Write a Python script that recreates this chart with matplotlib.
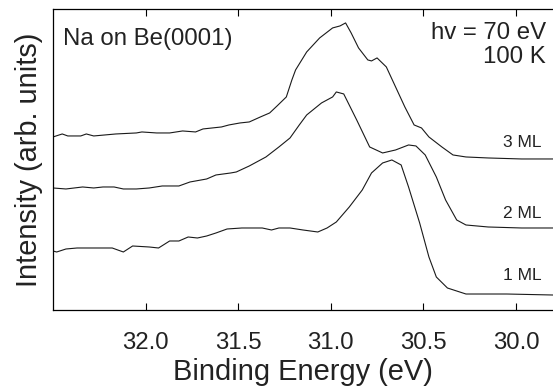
import matplotlib
matplotlib.use("Agg")
import matplotlib.pyplot as plt

plt.rcParams["font.family"] = ["Liberation Sans", "DejaVu Sans"]

# Espectros (energia de ligacao em eV, intensidade em unidades arbitrarias)
energia_3ml = [32.50, 32.45, 32.42, 32.35, 32.32, 32.28, 32.16, 32.05, 32.02, 31.94,
               31.87, 31.80, 31.73, 31.69, 31.59, 31.55, 31.49, 31.44, 31.38, 31.33,
               31.29, 31.24, 31.21, 31.19, 31.13, 31.06, 30.99, 30.95, 30.92, 30.89,
               30.85, 30.80, 30.78, 30.75, 30.70, 30.65, 30.60, 30.55, 30.51, 30.47,
               30.40, 30.34, 30.27, 30.15, 29.97, 29.80]
intens_3ml = [1.73, 1.76, 1.74, 1.74, 1.76, 1.74, 1.76, 1.77, 1.78, 1.77,
              1.77, 1.79, 1.78, 1.81, 1.83, 1.85, 1.87, 1.88, 1.93, 1.97,
              2.04, 2.13, 2.30, 2.40, 2.58, 2.72, 2.82, 2.84, 2.87, 2.77,
              2.62, 2.50, 2.49, 2.52, 2.43, 2.23, 2.03, 1.85, 1.82, 1.73,
              1.63, 1.55, 1.53, 1.52, 1.51, 1.51]

energia_2ml = [32.50, 32.43, 32.34, 32.28, 32.23, 32.17, 32.12, 32.05, 31.98, 31.91,
               31.82, 31.76, 31.67, 31.62, 31.54, 31.51, 31.44, 31.35, 31.28, 31.22,
               31.17, 31.13, 31.05, 30.99, 30.97, 30.93, 30.86, 30.79, 30.72, 30.65,
               30.58, 30.54, 30.49, 30.43, 30.38, 30.32, 30.27, 30.15, 29.97, 29.80]
intens_2ml = [1.22, 1.21, 1.23, 1.22, 1.23, 1.23, 1.21, 1.21, 1.22, 1.24,
              1.24, 1.28, 1.31, 1.35, 1.37, 1.38, 1.44, 1.53, 1.63, 1.72,
              1.85, 1.95, 2.07, 2.13, 2.18, 2.16, 1.90, 1.63, 1.57, 1.60,
              1.65, 1.64, 1.55, 1.33, 1.10, 0.90, 0.85, 0.83, 0.82, 0.82]

energia_1ml = [32.50, 32.48, 32.43, 32.37, 32.18, 32.12, 32.07, 31.98, 31.93, 31.87,
               31.82, 31.77, 31.72, 31.67, 31.62, 31.56, 31.48, 31.37, 31.32, 31.28,
               31.22, 31.15, 31.07, 31.02, 30.97, 30.90, 30.83, 30.78, 30.72, 30.67,
               30.62, 30.58, 30.52, 30.47, 30.43, 30.37, 30.27, 30.05, 29.80]
intens_1ml = [0.59, 0.58, 0.61, 0.62, 0.62, 0.58, 0.64, 0.63, 0.62, 0.69,
              0.69, 0.73, 0.72, 0.74, 0.77, 0.81, 0.82, 0.82, 0.80, 0.82,
              0.82, 0.80, 0.78, 0.82, 0.88, 1.03, 1.20, 1.37, 1.47, 1.50,
              1.45, 1.23, 0.87, 0.53, 0.33, 0.22, 0.16, 0.16, 0.15]

rotulos = ["3 ML", "2 ML", "1 ML"]
ticks_x = [32.0, 31.5, 31.0, 30.5, 30.0]

fig = plt.figure(figsize=(5.53, 3.88), dpi=100)
ax = fig.add_axes([0.0958, 0.201, 0.9042, 0.776])

cor = "#1a1a1a"
for e, i in [(energia_3ml, intens_3ml), (energia_2ml, intens_2ml), (energia_1ml, intens_1ml)]:
    ax.plot(e, i, color=cor, lw=0.8)

ax.set_xlim(32.5, 29.8)
ax.set_ylim(0, 3.01)
ax.set_xticks(ticks_x)
ax.set_xticklabels(["%.1f" % t for t in ticks_x], fontsize=17.3, color="#222")
ax.set_yticks([])
ax.tick_params(axis="x", direction="in", top=True, length=5, width=0.8, pad=15.5)
ax.spines["right"].set_visible(False)
for s in ["left", "bottom", "top"]:
    ax.spines[s].set_linewidth(0.9)

ax.set_xlabel("Binding Energy (eV)", fontsize=20.9, color="#222", labelpad=3)
ax.set_ylabel("Intensity (arb. units)", fontsize=20.9, color="#222", labelpad=7)

ax.text(0.02, 0.880, "Na on Be(0001)", transform=ax.transAxes, fontsize=17.3,
        ha="left", va="baseline", color="#222")
ax.text(0.986, 0.900, "hv = 70 eV", transform=ax.transAxes, fontsize=17.3,
        ha="right", va="baseline", color="#222")
ax.text(0.986, 0.821, "100 K", transform=ax.transAxes, fontsize=17.3,
        ha="right", va="baseline", color="#222")

# rotulos das camadas
for rot, yb in zip(rotulos, [147, 218, 280]):
    ax.text(0.978, (310 - yb) / 301, rot, transform=ax.transAxes, fontsize=12.5,
            ha="right", va="baseline", color="#222")

fig.savefig("out.png", dpi=100)
